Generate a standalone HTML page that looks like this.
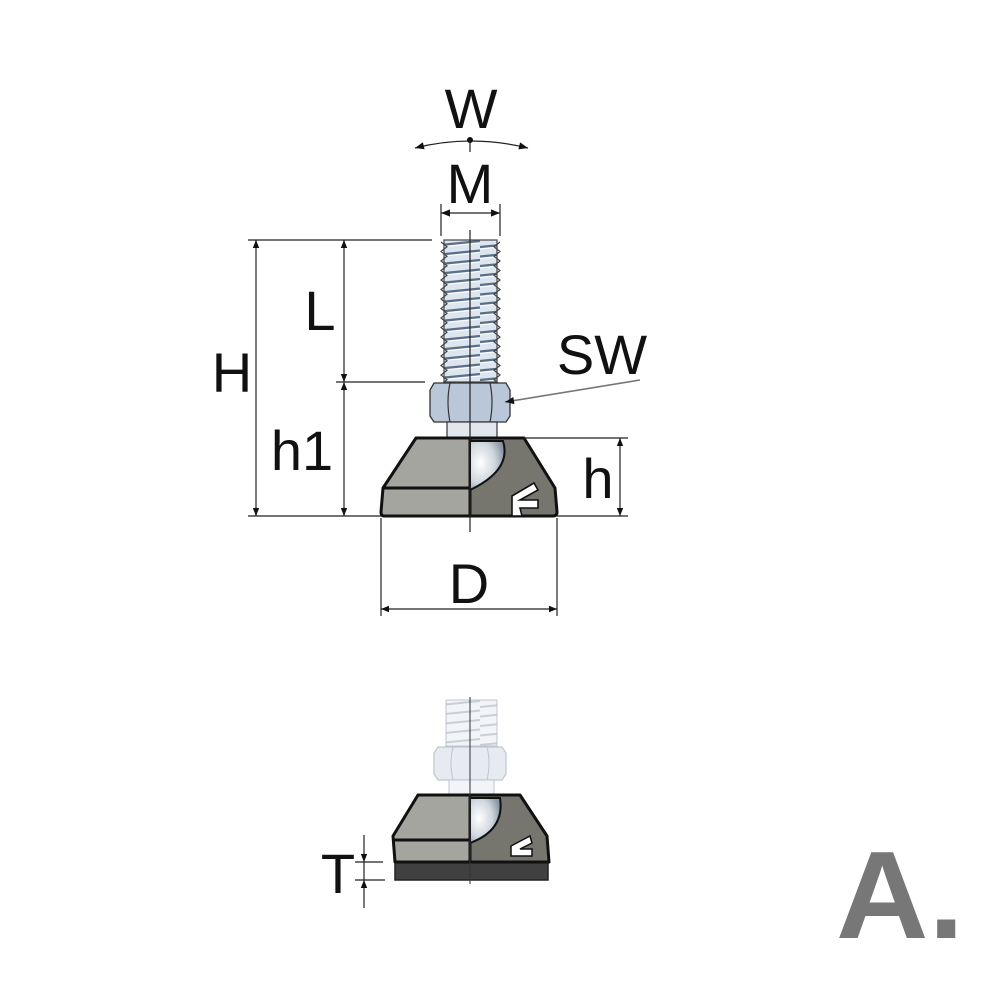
<!DOCTYPE html>
<html><head><style>html,body{margin:0;padding:0;background:#fff}svg{display:block}</style></head><body>
<svg width="1000" height="1000" viewBox="0 0 1000 1000" xmlns="http://www.w3.org/2000/svg" font-family="Liberation Sans, sans-serif">
<defs>
<marker id="a" viewBox="0 0 10 10" refX="10" refY="5" markerWidth="10" markerHeight="8" orient="auto-start-reverse" markerUnits="userSpaceOnUse"><path d="M0,1 L10,5 L0,9 z" fill="#111"/></marker>
<marker id="b" viewBox="0 0 10 10" refX="10" refY="5" markerWidth="13" markerHeight="9" orient="auto-start-reverse" markerUnits="userSpaceOnUse"><path d="M0,1 L10,5 L0,9 z" fill="#111"/></marker>
<pattern id="th" width="60" height="9.5" patternUnits="userSpaceOnUse" patternTransform="translate(0,240)">
<rect width="60" height="9.5" fill="#dde5ee"/>
<path d="M0,7 L60,1" stroke="#5a6f88" stroke-width="2.2"/>
<path d="M0,9 L60,3" stroke="#fff" stroke-width="1"/>
</pattern>
<pattern id="th2" width="60" height="9.5" patternUnits="userSpaceOnUse" patternTransform="translate(0,700)">
<rect width="60" height="9.5" fill="#eef1f5"/>
<path d="M0,7 L60,1" stroke="#b5c0cc" stroke-width="2"/>
</pattern>
<radialGradient id="ball" cx="0.3" cy="0.45" r="0.7"><stop offset="0" stop-color="#fff"/><stop offset="0.6" stop-color="#cfd6de"/><stop offset="1" stop-color="#8a96a3"/></radialGradient>
</defs>

<!-- TOP FOOT -->
<rect x="444" y="240" width="53" height="142" fill="url(#th)" stroke="#444" stroke-width="1.2"/>
<path d="M441,242 l6,4.75 l-6,4.75 l6,4.75 l-6,4.75 l6,4.75 l-6,4.75 l6,4.75 l-6,4.75 l6,4.75 l-6,4.75 l6,4.75 l-6,4.75 l6,4.75 l-6,4.75 l6,4.75 l-6,4.75 l6,4.75 l-6,4.75 l6,4.75 l-6,4.75 l6,4.75 l-6,4.75 l6,4.75 l-6,4.75 l6,4.75 l-6,4.75 l6,4.75 l-6,4.75 l6,4.75 l-6,4.75" fill="none" stroke="#444" stroke-width="1.2"/>
<path d="M500,242 l-6,4.75 l6,4.75 l-6,4.75 l6,4.75 l-6,4.75 l6,4.75 l-6,4.75 l6,4.75 l-6,4.75 l6,4.75 l-6,4.75 l6,4.75 l-6,4.75 l6,4.75 l-6,4.75 l6,4.75 l-6,4.75 l6,4.75 l-6,4.75 l6,4.75 l-6,4.75 l6,4.75 l-6,4.75 l6,4.75 l-6,4.75 l6,4.75 l-6,4.75 l6,4.75 l-6,4.75 l6,4.75" fill="none" stroke="#444" stroke-width="1.2"/>
<!-- nut -->
<path d="M434,383 L506,383 L510,390 L510,416 L506,422 L434,422 L430,416 L430,390 Z" fill="#b9c7d8" stroke="#333" stroke-width="1.3"/>
<path d="M450,383 Q446,402 450,422 M490,383 Q494,402 490,422" fill="none" stroke="#333" stroke-width="1.2"/>
<rect x="447" y="422" width="50" height="16" fill="#e2e7ee" stroke="#333" stroke-width="1.2"/>
<!-- base -->
<path d="M416,438 L470,438 L470,516 L384,516 Q381,516 381,512 L383,488 Z" fill="#a5a5a0" stroke="#111" stroke-width="3" stroke-linejoin="round"/>
<path d="M470,438 L524,438 L555,488 L557,512 Q557,516 553,516 L470,516 Z" fill="#76766f" stroke="#111" stroke-width="3" stroke-linejoin="round"/>
<path d="M383,488 L470,488" stroke="#111" stroke-width="3"/>
<path d="M470,441 L503,441 Q512,470 470,490 Z" fill="url(#ball)" stroke="#111" stroke-width="2"/>
<path d="M512,496 L534,483 L538,490 L520,500 L538,500 L538,508 L520,508 L522,516 L512,516 Z" fill="#fff" stroke="#111" stroke-width="1.6"/>

<!-- dims top -->
<g stroke="#222" stroke-width="1.2" fill="none">
<line x1="470" y1="230" x2="470" y2="532"/>
<line x1="248" y1="240" x2="432" y2="240"/>
<line x1="248" y1="516" x2="381" y2="516"/>
<line x1="336" y1="382" x2="425" y2="382"/>
<line x1="524" y1="438" x2="628" y2="438"/>
<line x1="557" y1="516" x2="628" y2="516"/>
<line x1="381" y1="518" x2="381" y2="616"/>
<line x1="557" y1="518" x2="557" y2="616"/>
<line x1="441" y1="204" x2="441" y2="236"/>
<line x1="500" y1="204" x2="500" y2="236"/>
<line x1="256" y1="240" x2="256" y2="516" marker-start="url(#a)" marker-end="url(#a)"/>
<line x1="344" y1="240" x2="344" y2="382" marker-start="url(#a)" marker-end="url(#a)"/>
<line x1="344" y1="382" x2="344" y2="516" marker-start="url(#a)" marker-end="url(#a)"/>
<line x1="620" y1="438" x2="620" y2="516" marker-start="url(#a)" marker-end="url(#a)"/>
<line x1="381" y1="609" x2="557" y2="609" marker-start="url(#a)" marker-end="url(#a)"/>
<line x1="441" y1="213" x2="500" y2="213" marker-start="url(#b)" marker-end="url(#b)"/>
<path d="M415,148 Q470,134 528,148" marker-start="url(#b)" marker-end="url(#b)"/>
<line x1="470" y1="140" x2="470" y2="152"/>
<path d="M640,380 L505,402" stroke="#777" stroke-width="1.6" marker-end="url(#b)"/>
</g>
<circle cx="470" cy="140" r="3" fill="#111"/>

<g fill="#111" font-size="56" text-anchor="middle">
<text x="471" y="128">W</text>
<text x="470" y="203">M</text>
<text x="320" y="330">L</text>
<text x="232" y="392">H</text>
<text x="302" y="470">h1</text>
<text x="602" y="374">SW</text>
<text x="598" y="498">h</text>
<text x="469" y="603">D</text>
<text x="338" y="893">T</text>
</g>

<!-- BOTTOM FOOT (faded bolt) -->
<g opacity="0.75">
<rect x="446" y="700" width="51" height="46" fill="url(#th2)" stroke="#aab4c0" stroke-width="1"/>
<path d="M438,747 L502,747 L506,753 L506,774 L502,780 L438,780 L434,774 L434,753 Z" fill="#dfe5ed" stroke="#a9b3bf" stroke-width="1.2"/>
<path d="M453,747 Q449,763 453,780 M487,747 Q491,763 487,780" fill="none" stroke="#a9b3bf"/>
<rect x="449" y="780" width="45" height="15" fill="#eef1f5" stroke="#a9b3bf"/>
</g>
<rect x="395" y="862" width="153" height="18" fill="#404040" stroke="#222" stroke-width="1.5"/>
<path d="M418,795 L470,795 L470,862 L395,862 L393,836 Z" fill="#a5a5a0" stroke="#111" stroke-width="3" stroke-linejoin="round"/>
<path d="M470,795 L520,795 L547,836 L549,862 L470,862 Z" fill="#76766f" stroke="#111" stroke-width="3" stroke-linejoin="round"/>
<path d="M393,840 L470,840" stroke="#111" stroke-width="3"/>
<path d="M470,798 L500,798 Q505,830 470,843 Z" fill="url(#ball)" stroke="#111" stroke-width="2"/>
<path d="M511,846 L530,836 L532,843 L520,849 L532,849 L532,856 L511,856 Z" fill="#fff" stroke="#111" stroke-width="1.5"/>
<line x1="470" y1="697" x2="470" y2="884" stroke="#333" stroke-width="1"/>
<g stroke="#222" stroke-width="1.2">
<line x1="364" y1="835" x2="364" y2="862" marker-end="url(#a)"/>
<line x1="364" y1="908" x2="364" y2="880" marker-end="url(#a)"/>
<line x1="364" y1="862" x2="364" y2="880"/>
<line x1="355" y1="862" x2="383" y2="862"/>
<line x1="355" y1="880" x2="385" y2="880"/>
</g>

<text x="900" y="938" font-size="124" font-weight="bold" fill="#777" text-anchor="middle" textLength="128" lengthAdjust="spacingAndGlyphs">A.</text>
</svg>
</body></html>
